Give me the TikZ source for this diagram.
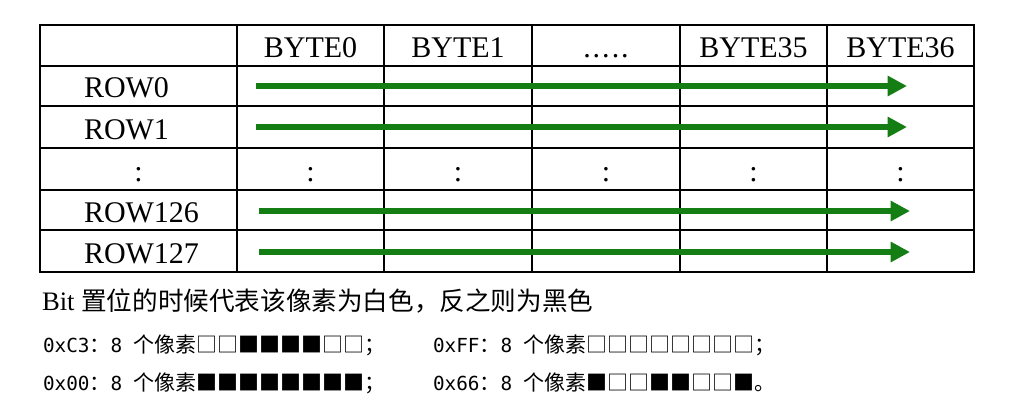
\documentclass[tikz,border=0pt]{standalone}
\usepackage{fontspec}
\setmainfont{Liberation Serif}
\newfontfamily\cjk{Noto Sans CJK SC}
\newfontfamily\mono{DejaVu Sans Mono}
\usepackage{xcolor}
\usepackage{tikz}
\usetikzlibrary{arrows.meta}
\definecolor{flowgreen}{RGB}{20,125,20}
\newcommand{\monotxt}{\mono\fontsize{14.5pt}{16pt}\selectfont}
\newcommand{\cjktxt}{\cjk\fontsize{15.75pt}{16pt}\selectfont}
\tikzset{
    tnode/.style = {inner sep=0pt, outer sep=0pt},
    head_node/.style = {tnode, anchor=base, font=\fontsize{22.5pt}{24pt}\selectfont},
    row_node/.style = {tnode, anchor=base west, font=\fontsize{22.5pt}{24pt}\selectfont},
    note_node/.style = {tnode, anchor=base west},
    grid_line/.style = {line width=2pt, line cap=rect},
    flow_arrow/.style = {-{Triangle[length=14.5pt, width=14.5pt]}, line width=3.8pt, draw=flowgreen}
}

\begin{document}
\begin{tikzpicture}
            [x=0.75pt, y=-0.75pt]
            \useasboundingbox (0,0) rectangle (1022,415);

            % table
            \draw[grid_line] (40,25) rectangle (974,272);
            \foreach \y in {66,106,148,190,230}
                \draw[grid_line] (40,\y) -- (974,\y);
            \foreach \x in {237,384,532,680,827}
                \draw[grid_line] (\x,25) -- (\x,272);

            % header
            \node[head_node] (byte0) at (310.5,57) {BYTE0};
            \node[head_node] (byte1) at (458,57) {BYTE1};
            \node[head_node] (bytedots) at (606,57) {.\hspace{1.5pt}.\hspace{1.5pt}.\hspace{1.5pt}.\hspace{1.5pt}.};
            \node[head_node] (byte35) at (753.5,57) {BYTE35};
            \node[head_node] (byte36) at (900.5,57) {BYTE36};

            % rows
            \node[row_node] (row0) at (84,97) {ROW0};
            \node[row_node] (row1) at (84,139) {ROW1};
            \node[head_node] (rowdots) at (138.5,181) {:};
            \node[row_node] (row126) at (84,222) {ROW126};
            \node[row_node] (row127) at (84,263) {ROW127};
            \foreach \x [count=\i] in {310.5,458,606,753.5,900.5}
                \node[head_node] (dots\i) at (\x,181) {:};

            % scan direction
            \coordinate (s0) at (256,86);   \coordinate (e0) at (907,86);
            \coordinate (s1) at (256,127);  \coordinate (e1) at (907,127);
            \coordinate (s126) at (259,211); \coordinate (e126) at (910,211);
            \coordinate (s127) at (259,252); \coordinate (e127) at (910,252);
            \draw[flow_arrow] (s0) -- (e0);
            \draw[flow_arrow] (s1) -- (e1);
            \draw[flow_arrow] (s126) -- (e126);
            \draw[flow_arrow] (s127) -- (e127);

            % notes
            \node[note_node] (note) at (42,310)
                {\fontsize{20pt}{22pt}\selectfont Bit\hspace{5pt}{\cjk\fontsize{19.2pt}{22pt}\selectfont 置位的时候代表该像素为白色，反之则为黑色}};
            \node[note_node] (hexc3) at (43,352)
                {{\monotxt 0xC3}{\cjktxt ：}{\monotxt 8 }{\cjktxt 个像素□□■■■■□□；}};
            \node[note_node] (hexff) at (433,352)
                {{\monotxt 0xFF}{\cjktxt ：}{\monotxt 8 }{\cjktxt 个像素□□□□□□□□；}};
            \node[note_node] (hex00) at (43,390)
                {{\monotxt 0x00}{\cjktxt ：}{\monotxt 8 }{\cjktxt 个像素■■■■■■■■；}};
            \node[note_node] (hex66) at (433,390)
                {{\monotxt 0x66}{\cjktxt ：}{\monotxt 8 }{\cjktxt 个像素■□□■■□□■。}};
\end{tikzpicture}
\end{document}
